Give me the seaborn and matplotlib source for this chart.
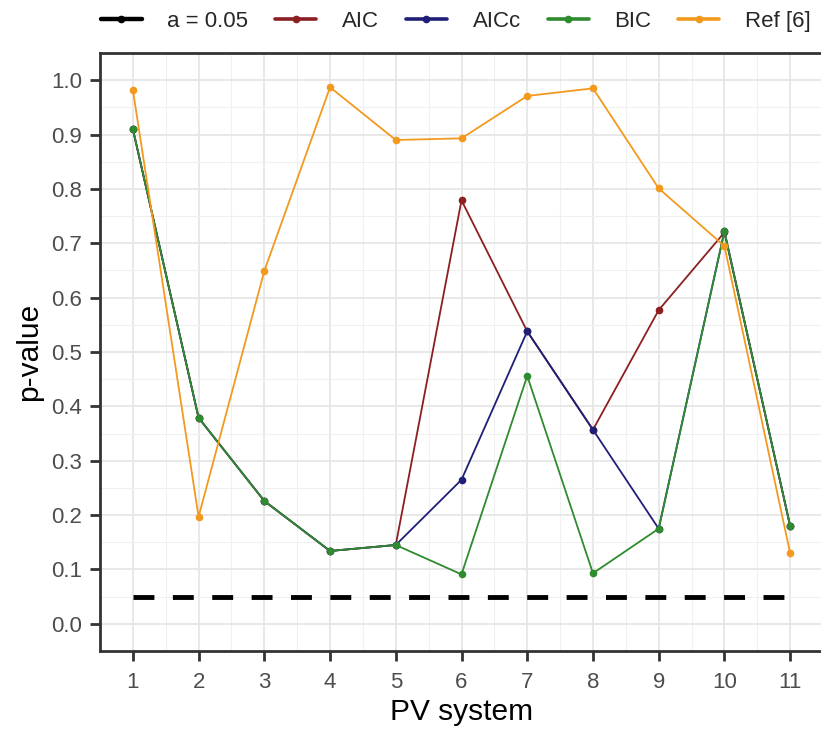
import matplotlib
matplotlib.use("Agg")
import matplotlib.pyplot as plt
from matplotlib.lines import Line2D
from matplotlib.ticker import MultipleLocator
import seaborn as sns
import pandas as pd

systems = [1, 2, 3, 4, 5, 6, 7, 8, 9, 10, 11]
alpha_vals = [0.05] * 11
aic = [0.91, 0.379, 0.226, 0.134, 0.145, 0.779, 0.538, 0.357, 0.577, 0.72, 0.18]
aicc = [0.91, 0.379, 0.226, 0.134, 0.145, 0.265, 0.538, 0.357, 0.175, 0.722, 0.18]
bic = [0.91, 0.379, 0.226, 0.134, 0.145, 0.091, 0.456, 0.093, 0.175, 0.722, 0.18]
ref6 = [0.982, 0.197, 0.649, 0.987, 0.89, 0.893, 0.971, 0.985, 0.801, 0.695, 0.13]
series_names = ["a = 0.05", "AIC", "AICc", "BIC", "Ref [6]"]
colors = ["#000000", "#8B1F22", "#1F1F78", "#2E8B2E", "#F39A1E"]

sns.set_style("white")
plt.rcParams['font.family'] = ['Liberation Sans', 'DejaVu Sans']

fig = plt.figure(figsize=(8.21, 7.34), dpi=100)
ax = fig.add_axes([100/821, 1-651/734, 723/821, (651-53)/734])

sns.lineplot(x=systems, y=alpha_vals, color="black", linewidth=3.5,
             linestyle=(0, (4.3, 3.8)), ax=ax, zorder=3)
for name, vals, c in zip(series_names[1:], [aic, aicc, bic, ref6], colors[1:]):
    sns.lineplot(x=systems, y=vals, color=c, linewidth=1.3, marker="o",
                 markersize=5.5, markeredgewidth=0, ax=ax, zorder=4)

ax.set_xlim(0.5, 11.5)
ax.set_ylim(-0.05, 1.05)
ax.set_xticks(systems)
ax.set_yticks([i/10 for i in range(11)])
ax.set_yticklabels([f"{i/10:.1f}" for i in range(11)])
ax.xaxis.set_minor_locator(MultipleLocator(0.5))
ax.yaxis.set_minor_locator(MultipleLocator(0.05))
ax.grid(which="major", color="#E6E6E6", linewidth=1.3)
ax.grid(which="minor", color="#F0F0F0", linewidth=0.8)
ax.set_axisbelow(True)

for s in ["left", "bottom", "top"]:
    ax.spines[s].set_color("#333333")
    ax.spines[s].set_linewidth(2.0)
ax.spines["right"].set_visible(False)
ax.tick_params(axis="both", which="major", length=7, width=2, color="#333333",
               labelsize=16, labelcolor="#4D4D4D", left=True, bottom=True)
ax.tick_params(axis="x", which="major", pad=8)
ax.tick_params(axis="y", which="major", pad=6)
ax.tick_params(axis="both", which="minor", length=0)

ax.set_xlabel("PV system", fontsize=21.5, color="black", labelpad=4)
ax.set_ylabel("p-value", fontsize=21.5, color="black", labelpad=6)

handles = [Line2D([0], [0], color=c, linewidth=3.2 if i == 0 else 2.6, marker="o",
                  markersize=5.5, markeredgewidth=0)
           for i, c in enumerate(colors)]
fig.legend(handles, series_names, loc="upper center", bbox_to_anchor=(0.555, 1.012),
           ncol=5, frameon=False, fontsize=16, handlelength=1.86,
           columnspacing=1.2, handletextpad=1.15)

fig.savefig("out.png", dpi=100)
